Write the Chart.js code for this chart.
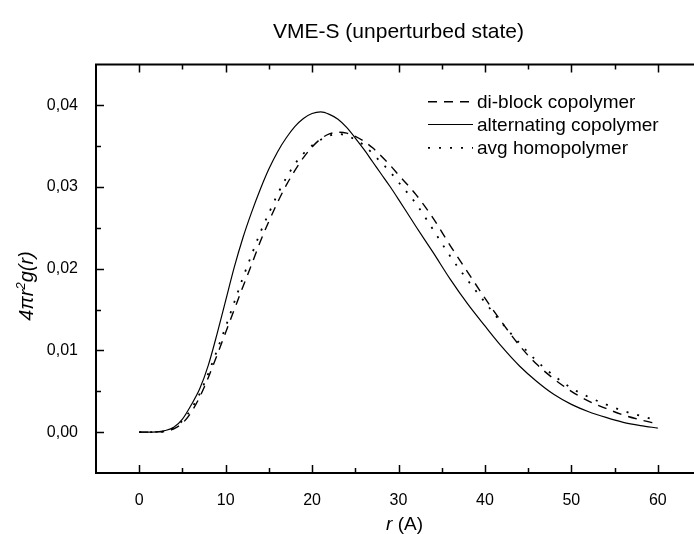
<!DOCTYPE html>
<html><head><meta charset="utf-8">
<script src="https://cdn.jsdelivr.net/npm/chart.js@4.4.0/dist/chart.umd.min.js"></script>
<style>
html,body{margin:0;padding:0;overflow:hidden;background:#fff;width:694px;height:534px}
#wrap{width:712px;height:534px;position:relative}
</style>
</head><body><div id="wrap"><canvas id="c" width="712" height="534"></canvas></div>
<script>
// ---- data ----
const rValues = [0,1,2,3,4,5,6,7,8,9,10,11,12,13,14,15,16,17,18,19,20,21,22,23,24,25,26,27,28,29,30,
  32,34,36,38,40,42,44,46,48,50,52,54,56,58,60];
const diblock = [0,0,0.00002,0.0001,0.0004,0.0011,0.0024,0.0043,0.0067,0.0094,0.0122,0.0150,0.0178,0.0205,0.0233,0.0258,0.0281,0.0302,0.0320,0.0336,0.0349,0.0359,0.0365,0.0367,0.0366,0.0362,0.0356,0.0348,0.0338,0.0327,0.0315,
  0.0291,0.0262,0.0228,0.0196,0.0164,0.0134,0.0106,0.0083,0.0065,0.0050,0.0038,0.0029,0.0021,0.0015,0.0010];
const alternating = [0,0,0.00003,0.0002,0.0006,0.0016,0.0033,0.0053,0.0082,0.0120,0.0161,0.0202,0.0238,0.0269,0.0297,0.0322,0.0343,0.0360,0.0374,0.0384,0.0390,0.0392,0.0389,0.0383,0.0373,0.0360,0.0346,0.0331,0.0316,0.0301,0.0285,
  0.0252,0.0220,0.0187,0.0157,0.0130,0.0104,0.0081,0.0062,0.0046,0.0034,0.0025,0.0018,0.0012,0.0008,0.0005];
const homopolymer = [0,0,0.00002,0.0001,0.0005,0.0014,0.0028,0.0047,0.0072,0.0100,0.0129,0.0159,0.0189,0.0217,0.0244,0.0268,0.0291,0.0311,0.0328,0.0341,0.0351,0.0358,0.0363,0.0365,0.0363,0.0358,0.0351,0.0341,0.0330,0.0319,0.0306,
  0.0280,0.0248,0.0215,0.0186,0.0159,0.0133,0.0109,0.0087,0.0069,0.0054,0.0043,0.0034,0.0026,0.0020,0.0014];
const seriesLabels = ['di-block copolymer','alternating copolymer','avg homopolymer'];
const chartTitle = 'VME-S (unperturbed state)';
const xMajorTicks = [0,10,20,30,40,50,60];
const yMajorTicks = [0,0.01,0.02,0.03,0.04];
const yTickLabels = ['0,00','0,01','0,02','0,03','0,04'];
const xTitleParts = ['r', ' (A)'];
const yTitleParts = ['4\u03C0r', '2', 'g(r)'];

const FONT = "'Liberation Sans', Arial, Helvetica, sans-serif";
Chart.defaults.font.family = FONT;
Chart.defaults.color = '#000';

const toPts = ys => rValues.map((r, i) => ({x: r, y: ys[i]}));
const majorXIndex = v => xMajorTicks.findIndex(m => Math.abs(m - v) < 1e-6);
const majorYIndex = v => yMajorTicks.findIndex(m => Math.abs(m - v) < 1e-7);

const decorPlugin = {
  id: 'decor',
  afterDatasetsDraw(chart) {
    const {ctx, chartArea: a, scales: {x, y}} = chart;
    ctx.save();
    ctx.strokeStyle = '#000';
    ctx.fillStyle = '#000';
    ctx.setLineDash([]);
    // top & right frame
    ctx.lineWidth = 2;
    ctx.beginPath();
    ctx.moveTo(a.left - 1, a.top); ctx.lineTo(a.right + 1, a.top);
    ctx.moveTo(a.right, a.top); ctx.lineTo(a.right, a.bottom);
    ctx.stroke();
    // inward ticks
    ctx.lineWidth = 1.5;
    ctx.beginPath();
    x.ticks.forEach(t => {
      const v = t.value;
      if (v <= x.min + 1e-9 || v >= x.max - 1e-9) return;
      const px = Math.round(x.getPixelForValue(v)) + 0.5;
      const len = majorXIndex(v) >= 0 ? 8 : 5;
      ctx.moveTo(px, a.bottom); ctx.lineTo(px, a.bottom - len);
      ctx.moveTo(px, a.top); ctx.lineTo(px, a.top + len);
    });
    y.ticks.forEach(t => {
      const v = t.value;
      if (v <= y.min + 1e-9 || v >= y.max - 1e-9) return;
      const py = Math.round(y.getPixelForValue(v)) + 0.5;
      const len = majorYIndex(v) >= 0 ? 8 : 5;
      ctx.moveTo(a.left, py); ctx.lineTo(a.left + len, py);
    });
    ctx.stroke();

    // legend
    const lx0 = 428, lx1 = 473, tx = 477;
    const baselines = [108.3, 131, 154.3];
    ctx.font = '19px ' + FONT;
    ctx.textAlign = 'left';
    ctx.textBaseline = 'alphabetic';
    chart.data.datasets.forEach((ds, i) => {
      const by = baselines[i];
      ctx.save();
      ctx.lineWidth = ds.borderWidth;
      ctx.setLineDash(ds.borderDash || []);
      ctx.beginPath();
      ctx.moveTo(lx0, by - 6.5); ctx.lineTo(lx1, by - 6.5);
      ctx.stroke();
      ctx.restore();
      ctx.fillText(ds.label, tx, by);
    });

    // x axis title: italic r + (A)
    ctx.font = 'italic 19px ' + FONT;
    const w0 = ctx.measureText(xTitleParts[0]).width;
    ctx.font = '19px ' + FONT;
    const w1 = ctx.measureText(xTitleParts[1]).width;
    const sx = 404.5 - (w0 + w1) / 2;
    ctx.font = 'italic 19px ' + FONT;
    ctx.fillText(xTitleParts[0], sx, 530);
    ctx.font = '19px ' + FONT;
    ctx.fillText(xTitleParts[1], sx + w0, 530);

    // y axis title rotated
    ctx.save();
    ctx.translate(32.5, 286);
    ctx.rotate(-Math.PI / 2);
    ctx.font = 'italic 20px ' + FONT;
    const a0 = ctx.measureText(yTitleParts[0]).width;
    ctx.font = 'italic 13px ' + FONT;
    const a1 = ctx.measureText(yTitleParts[1]).width;
    ctx.font = 'italic 20px ' + FONT;
    const a2 = ctx.measureText(yTitleParts[2]).width;
    const s = -(a0 + a1 + a2) / 2;
    ctx.fillText(yTitleParts[0], s, 0);
    ctx.font = 'italic 13px ' + FONT;
    ctx.fillText(yTitleParts[1], s + a0, -8);
    ctx.font = 'italic 20px ' + FONT;
    ctx.fillText(yTitleParts[2], s + a0 + a1, 0);
    ctx.restore();

    ctx.restore();
  }
};

const lineCommon = {borderColor: '#000', pointRadius: 0, cubicInterpolationMode: 'monotone', fill: false};

new Chart(document.getElementById('c'), {
  type: 'line',
  data: {
    datasets: [
      Object.assign({label: seriesLabels[0], data: toPts(diblock), borderWidth: 1.4, borderDash: [9, 7]}, lineCommon),
      Object.assign({label: seriesLabels[1], data: toPts(alternating), borderWidth: 1.2, borderDash: []}, lineCommon),
      Object.assign({label: seriesLabels[2], data: toPts(homopolymer), borderWidth: 1.8, borderDash: [2, 9]}, lineCommon)
    ]
  },
  options: {
    responsive: false,
    animation: false,
    devicePixelRatio: 1,
    layout: {padding: {left: 0, right: 11, top: 0, bottom: 0}},
    plugins: {
      legend: {display: false},
      tooltip: {enabled: false},
      title: {
        display: true, text: chartTitle, fullSize: false, color: '#000',
        font: {size: 21, weight: 'normal', family: FONT},
        padding: {top: 20, bottom: 19.3}
      }
    },
    scales: {
      x: {
        type: 'linear', min: -5, max: 65,
        grid: {display: false},
        border: {display: true, color: '#000', width: 2},
        ticks: {
          stepSize: 5, autoSkip: false, maxRotation: 0, minRotation: 0, padding: 10,
          font: {size: 16}, color: '#000',
          callback: v => { const i = majorXIndex(v); return i >= 0 ? String(xMajorTicks[i]) : ''; }
        },
        afterFit: s => { s.height = 61; }
      },
      y: {
        type: 'linear', min: -0.005, max: 0.045,
        grid: {display: false},
        border: {display: true, color: '#000', width: 2},
        ticks: {
          stepSize: 0.005, autoSkip: false, padding: 10,
          font: {size: 16}, color: '#000',
          callback: v => { const i = majorYIndex(v); return i >= 0 ? yTickLabels[i] : ''; }
        },
        afterFit: s => { s.width = 96; }
      }
    }
  },
  plugins: [decorPlugin]
});
</script>
</body></html>
